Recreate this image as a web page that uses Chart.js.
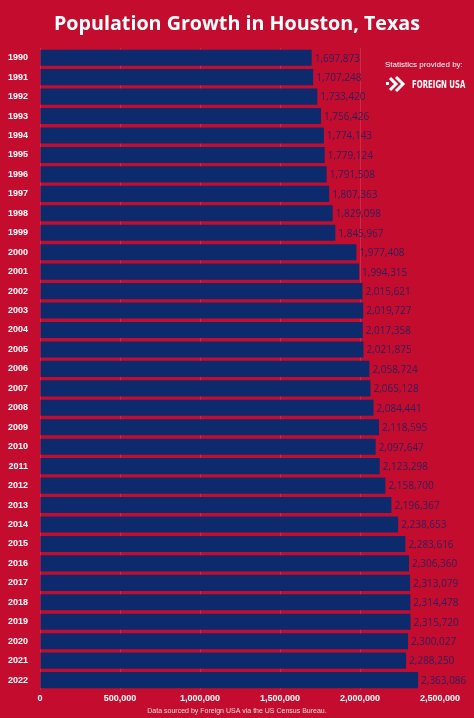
<!DOCTYPE html>
<html>
<head>
<meta charset="utf-8">
<script src="https://cdn.jsdelivr.net/npm/chart.js@4"></script>
<style>
  html, body { margin: 0; padding: 0; background: #c40d2e; }
  #wrap { width: 474px; height: 718px; }
</style>
</head>
<body>
<div id="wrap"><canvas id="popChart" width="474" height="718"></canvas></div>
<script>
/*--data--*/
var years = ["1990","1991","1992","1993","1994","1995","1996","1997","1998","1999",
  "2000","2001","2002","2003","2004","2005","2006","2007","2008","2009",
  "2010","2011","2012","2013","2014","2015","2016","2017","2018","2019",
  "2020","2021","2022"];
var population = [1697873, 1707248, 1733420, 1756426, 1774143, 1779124, 1791508, 1807363, 1829098, 1845967,
  1977408, 1994315, 2015621, 2019727, 2017358, 2021875, 2058724, 2065128, 2084441, 2118595,
  2097647, 2123298, 2158700, 2196367, 2238653, 2283616, 2306360, 2313079, 2314478, 2315720,
  2300027, 2288250, 2363086];
var xTicks = [0, 500000, 1000000, 1500000, 2000000, 2500000];

var titleText = 'Population Growth in Houston, Texas';
var footerText = 'Data sourced by Foreign USA via the US Census Bureau.';

var bgRed = "#c40d2e";
var navy = "#0c2a6c";

/*--background, title, value labels and logo--*/
var extras = {
  id: 'extras',
  beforeDraw: function(chart) {
    var ctx = chart.ctx;
    ctx.save();
    ctx.fillStyle = bgRed;
    ctx.fillRect(0, 0, chart.width, chart.height);
    ctx.restore();
  },
  afterDatasetsDraw: function(chart) {
    var ctx = chart.ctx;
    var meta = chart.getDatasetMeta(0);
    ctx.save();
    ctx.font = "10px 'Open Sans'";
    ctx.fillStyle = "#2e1d5e";
    ctx.textAlign = "left";
    ctx.textBaseline = "middle";
    meta.data.forEach(function(bar, i) {
      ctx.fillText(population[i].toLocaleString('en-US'), bar.x + 3, bar.y + 1);
    });

    // title + footer, centred on the whole canvas
    ctx.textAlign = "center";
    ctx.fillStyle = "#ffffff";
    ctx.font = "bold 19.7px 'Open Sans'";
    ctx.fillText(titleText, chart.width / 2, 24);
    ctx.fillStyle = "#f4d6da";
    ctx.font = "7px 'Liberation Sans'";
    ctx.fillText(footerText, chart.width / 2, 711);

    // logo block
    ctx.textAlign = "left";
    ctx.fillStyle = "#ffffff";
    ctx.font = "8px 'Liberation Sans'";
    ctx.fillText("Statistics provided by:", 385, 65);
    ctx.beginPath();
    ctx.moveTo(390, 78); ctx.lineTo(396, 84); ctx.lineTo(390, 90);
    ctx.moveTo(396, 77); ctx.lineTo(403, 84); ctx.lineTo(396, 91);
    ctx.lineWidth = 3;
    ctx.strokeStyle = "#ffffff";
    ctx.stroke();
    ctx.fillRect(386, 82, 3, 3);
    ctx.font = "bold 9px 'DejaVu Sans Condensed'";
    ctx.translate(412, 85);
    ctx.scale(0.86, 1.15);
    ctx.fillText("FOREIGN USA", 0, 0);
    ctx.restore();
  }
};

var popChart = new Chart(document.getElementById('popChart'), {
  type: 'bar',
  data: {
    labels: years,
    datasets: [{
      data: population,
      backgroundColor: navy,
      borderWidth: 0,
      barPercentage: 0.9,
      categoryPercentage: 0.92
    }]
  },
  options: {
    indexAxis: 'y',
    responsive: false,
    animation: false,
    layout: { padding: { top: 0, right: 34, bottom: 0, left: 4 } },
    plugins: {
      legend: { display: false },
      tooltip: { enabled: false },
      // kept only as spacers, the text is painted by the extras plugin
      title: {
        display: true,
        text: titleText,
        color: 'rgba(0,0,0,0)',
        font: { family: "'Open Sans'", size: 20, weight: 'bold' },
        padding: { top: 12, bottom: 12 }
      },
      subtitle: {
        display: true,
        position: 'bottom',
        text: footerText,
        color: 'rgba(0,0,0,0)',
        font: { family: "'Liberation Sans'", size: 7 },
        padding: { top: 0, bottom: 3 }
      }
    },
    scales: {
      x: {
        min: 0,
        max: 2500000,
        afterBuildTicks: function(axis) {
          axis.ticks = xTicks.map(function(v) { return { value: v }; });
        },
        grid: {
          color: function(c) { return c.tick && c.tick.value >= 2500000 ? 'rgba(0,0,0,0)' : 'rgba(255,255,255,0.13)'; },
          drawTicks: false
        },
        border: { display: false },
        ticks: {
          color: '#ffffff',
          padding: 3,
          maxRotation: 0,
          font: { family: "'Liberation Sans'", size: 9, weight: 'bold' },
          callback: function(v) { return Number(v).toLocaleString('en-US'); }
        }
      },
      y: {
        grid: { display: false },
        border: { display: false },
        ticks: {
          color: '#ffffff',
          padding: 4,
          autoSkip: false,
          font: { family: "'Liberation Sans'", size: 9, weight: 'bold' }
        }
      }
    }
  },
  plugins: [extras]
});
</script>
</body>
</html>
